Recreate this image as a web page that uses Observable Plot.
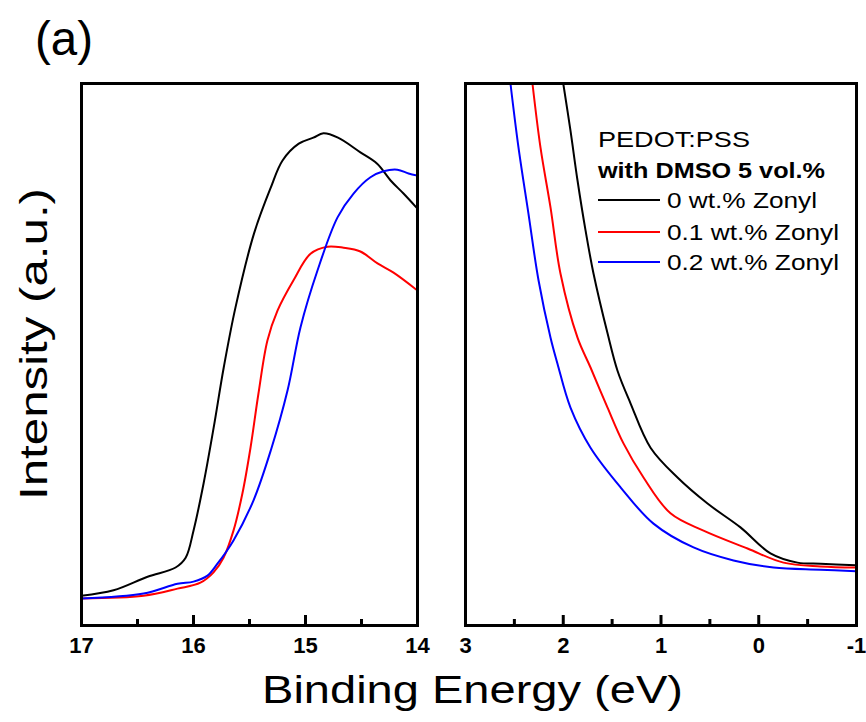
<!DOCTYPE html>
<html>
<head>
<meta charset="utf-8">
<script src="https://cdn.jsdelivr.net/npm/d3@7"></script>
<script src="https://cdn.jsdelivr.net/npm/@observablehq/plot@0.6"></script>
<style>
  html, body { margin: 0; padding: 0; background: #fff; }
  #wrap { position: relative; width: 866px; height: 722px; overflow: hidden; font-family: "Liberation Sans", Arial, sans-serif; }
  #wrap svg { max-width: none; }
  .panel { position: absolute; }
  #overlay { position: absolute; left: 0; top: 0; }
</style>
</head>
<body>
<div id="wrap">
  <div class="panel" id="left" style="left:71px; top:73px;"></div>
  <div class="panel" id="right" style="left:455px; top:73px;"></div>
</div>
<script>
// ---- data ----
const seriesNames = ["0 wt.% Zonyl", "0.1 wt.% Zonyl", "0.2 wt.% Zonyl"];
const seriesColors = ["#000000", "#ff0000", "#0000ff"];
const legendTitle = ["PEDOT:PSS", "with DMSO 5 vol.%"];

// left panel: 17 -> 14 eV (secondary-electron cutoff region)
const leftTicks = [17, 16, 15, 14];
const leftMinorTicks = [16.5, 15.5, 14.5];
const leftBlackX = [17.0, 16.714, 16.41, 16.16, 16.07, 16.0, 15.91, 15.82, 15.73, 15.625, 15.46, 15.31, 15.205, 15.06, 14.93, 14.84, 14.71, 14.51, 14.36, 14.24, 14.125, 14.0];
const leftBlackY = [5.5, 6.5, 9.0, 10.7, 12.5, 17.5, 26.2, 36.5, 47.6, 58.7, 72.3, 80.8, 85.8, 88.9, 90.0, 90.8, 90.0, 87.3, 85.2, 82.1, 79.7, 76.9];
const leftRedX = [17.0, 16.446, 16.143, 15.938, 15.821, 15.732, 15.643, 15.563, 15.491, 15.42, 15.34, 15.25, 15.107, 14.955, 14.804, 14.66, 14.51, 14.357, 14.214, 14.0];
const leftRedY = [5.0, 5.5, 6.8, 7.9, 9.8, 12.5, 17.5, 24.4, 32.8, 42.8, 52.6, 58.1, 63.7, 68.6, 69.9, 69.7, 69.0, 66.8, 65.1, 61.8];
const leftBlueX = [17.0, 16.446, 16.143, 16.0, 15.875, 15.786, 15.643, 15.464, 15.31, 15.16, 15.045, 14.893, 14.714, 14.571, 14.42, 14.304, 14.18, 14.08, 14.0];
const leftBlueY = [5.0, 5.9, 7.7, 8.1, 9.2, 11.4, 15.7, 23.1, 32.3, 43.4, 55.0, 65.5, 75.3, 79.7, 82.7, 83.8, 84.1, 83.4, 83.0];

// right panel: 3 -> -1 eV (valence band edge region)
const rightTicks = [3, 2, 1, 0, -1];
const rightMinorTicks = [2.5, 1.5, 0.5, -0.5];
const rightBlackX = [2.0, 1.926, 1.854, 1.772, 1.69, 1.547, 1.445, 1.312, 1.107, 0.831, 0.524, 0.187, -0.12, -0.396, -0.632, -1.0];
const rightBlackY = [100, 91.3, 82.1, 72.9, 64.9, 53.9, 47.0, 41.0, 32.8, 27.3, 22.5, 18.1, 13.3, 11.6, 11.4, 11.1];
const rightRedX = [2.315, 2.233, 2.13, 2.028, 1.854, 1.721, 1.547, 1.384, 1.179, 0.903, 0.565, 0.115, -0.253, -0.632, -1.0];
const rightRedY = [100, 88.2, 77.1, 64.9, 53.1, 47.6, 40.2, 33.6, 27.3, 20.7, 17.5, 14.2, 11.6, 10.9, 10.7];
const rightBlueX = [2.54, 2.458, 2.356, 2.253, 2.13, 2.059, 1.926, 1.721, 1.414, 1.077, 0.667, 0.258, -0.151, -0.632, -1.0];
const rightBlueY = [100, 88.2, 76.0, 63.7, 53.1, 48.3, 40.2, 32.8, 25.5, 18.8, 14.4, 12.0, 10.7, 10.3, 10.0];

const yDomain = [0, 100];

// ---- build tables ----
function table(xs, ys, s) { return xs.map((x, i) => ({x, y: ys[i], s})); }
const leftData = [
  ...table(leftBlackX, leftBlackY, seriesNames[0]),
  ...table(leftRedX, leftRedY, seriesNames[1]),
  ...table(leftBlueX, leftBlueY, seriesNames[2])
];
const rightData = [
  ...table(rightBlackX, rightBlackY, seriesNames[0]),
  ...table(rightRedX, rightRedY, seriesNames[1]),
  ...table(rightBlueX, rightBlueY, seriesNames[2])
];

const innerH = 542;
function panel(data, domain, ticks, minor, width) {
  return Plot.plot({
    width, height: 10 + innerH + 40,
    marginLeft: 10, marginRight: 10, marginTop: 10, marginBottom: 40,
    style: {fontFamily: "'Liberation Sans', Arial, sans-serif", background: "transparent", overflow: "visible"},
    x: {domain, ticks, label: null},
    y: {domain: yDomain, axis: null},
    color: {domain: seriesNames, range: seriesColors},
    marks: [
      Plot.line(data, {x: "x", y: "y", z: "s", stroke: "s", strokeWidth: 2, curve: "catmull-rom", clip: true}),
      Plot.ruleX(ticks, {strokeWidth: 3, insetTop: innerH - 10}),
      Plot.ruleX(minor, {strokeWidth: 3, insetTop: innerH - 6}),
      Plot.frame({strokeWidth: 3}),
      Plot.axisX({ticks, tickSize: 0, tickPadding: 12, fontSize: 22, fontWeight: "bold", label: null, tickFormat: d => String(d)})
    ]
  });
}

document.getElementById("left").appendChild(panel(leftData, [17, 14], leftTicks, leftMinorTicks, 356));
document.getElementById("right").appendChild(panel(rightData, [3, -1], rightTicks, rightMinorTicks, 411));

// ---- overlay texts & legend ----
const ns = "http://www.w3.org/2000/svg";
const ov = document.createElementNS(ns, "svg");
ov.setAttribute("id", "overlay");
ov.setAttribute("width", 866);
ov.setAttribute("height", 722);
ov.style.fontFamily = "'Liberation Sans', Arial, sans-serif";
function txt(s, attrs) {
  const t = document.createElementNS(ns, "text");
  for (const k in attrs) t.setAttribute(k, attrs[k]);
  t.textContent = s;
  ov.appendChild(t);
  return t;
}
txt("(a)", {x: 35, y: 55, "font-size": 48, textLength: 58, lengthAdjust: "spacingAndGlyphs"});
txt("Intensity (a.u.)", {transform: "translate(47,500) rotate(-90)", "font-size": 39, textLength: 312, lengthAdjust: "spacingAndGlyphs"});
txt("Binding Energy (eV)", {x: 262, y: 703, "font-size": 39, textLength: 421, lengthAdjust: "spacingAndGlyphs"});
txt(legendTitle[0], {x: 598, y: 147, "font-size": 22, textLength: 152, lengthAdjust: "spacingAndGlyphs"});
txt(legendTitle[1], {x: 598, y: 178, "font-size": 22, "font-weight": "bold", textLength: 227, lengthAdjust: "spacingAndGlyphs"});
const entryY = [200, 232, 262];
const entryW = [150, 172, 172];
seriesNames.forEach((name, i) => {
  const l = document.createElementNS(ns, "line");
  l.setAttribute("x1", 598); l.setAttribute("x2", 660);
  l.setAttribute("y1", entryY[i]); l.setAttribute("y2", entryY[i]);
  l.setAttribute("stroke", seriesColors[i]); l.setAttribute("stroke-width", 2);
  ov.appendChild(l);
  txt(name, {x: 667, y: entryY[i] + 8, "font-size": 22, textLength: entryW[i], lengthAdjust: "spacingAndGlyphs"});
});
document.getElementById("wrap").appendChild(ov);
</script>
</body>
</html>
